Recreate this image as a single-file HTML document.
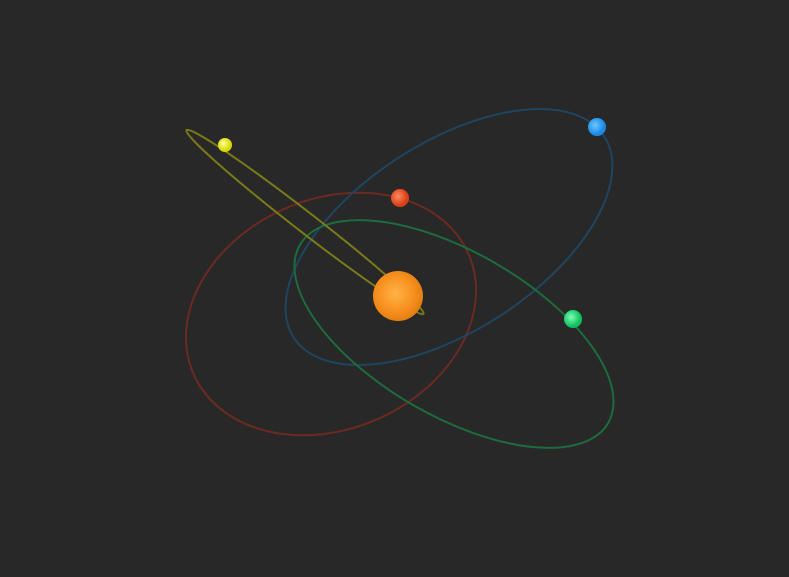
<!DOCTYPE html>
<html><head><meta charset="utf-8"><style>
html,body{margin:0;padding:0;background:#282828;}
svg{display:block;}
</style></head><body>
<svg id="chart" width="789" height="577" viewBox="0 0 789 577">
<defs>
<radialGradient id="sunG" cx="45%" cy="45%" r="60%"><stop offset="0" stop-color="#ffb347"/><stop offset="0.6" stop-color="#f7901e"/><stop offset="1" stop-color="#e07a10"/></radialGradient>
<radialGradient id="gY" cx="40%" cy="40%"><stop offset="0" stop-color="#ffff99"/><stop offset="1" stop-color="#d8d800"/></radialGradient>
<radialGradient id="gR" cx="40%" cy="40%"><stop offset="0" stop-color="#ff8a5c"/><stop offset="1" stop-color="#d9401a"/></radialGradient>
<radialGradient id="gB" cx="40%" cy="40%"><stop offset="0" stop-color="#6cc8ff"/><stop offset="1" stop-color="#1a8ae6"/></radialGradient>
<radialGradient id="gG" cx="40%" cy="40%"><stop offset="0" stop-color="#7dffb8"/><stop offset="1" stop-color="#10c060"/></radialGradient>
</defs>
<rect width="789" height="577" fill="#282828"/>
<g id="orbits"></g>
<circle cx="398" cy="296" r="25" fill="url(#sunG)"/>
<g id="planets"></g>
</svg>
<script>
const names = ["red-orbit","blue-orbit","green-orbit","yellow-orbit"];
const centersX = [331,449,454,305];
const centersY = [314,237,334,222];
const semiMajor = [150,185,178,150];
const semiMinor = [115,94,82,10];
const tilts = [-23.5,-33,30,37.8];
const strokes = ["#6b2a22","#1f4560","#1d6b3e","#7a7a1a"];
const planetNames = ["yellow-planet","red-planet","blue-planet","green-planet"];
const planetX = [225,400,597,573];
const planetY = [145,198,127,319];
const planetR = [7,9,9,9];
const planetFill = ["url(#gY)","url(#gR)","url(#gB)","url(#gG)"];
const NS="http://www.w3.org/2000/svg";
const og=document.getElementById('orbits');
for(let i=0;i<names.length;i++){
  const e=document.createElementNS(NS,'ellipse');
  e.setAttribute('cx',centersX[i]);e.setAttribute('cy',centersY[i]);
  e.setAttribute('rx',semiMajor[i]);e.setAttribute('ry',semiMinor[i]);
  e.setAttribute('transform','rotate('+tilts[i]+' '+centersX[i]+' '+centersY[i]+')');
  e.setAttribute('fill','none');e.setAttribute('stroke',strokes[i]);e.setAttribute('stroke-width','2');
  
  
  og.appendChild(e);
}
const pg=document.getElementById('planets');
for(let i=0;i<planetNames.length;i++){
  const c=document.createElementNS(NS,'circle');
  c.setAttribute('cx',planetX[i]);c.setAttribute('cy',planetY[i]);c.setAttribute('r',planetR[i]);
  c.setAttribute('fill',planetFill[i]);
  
  
  pg.appendChild(c);
}
</script>
</body></html>
